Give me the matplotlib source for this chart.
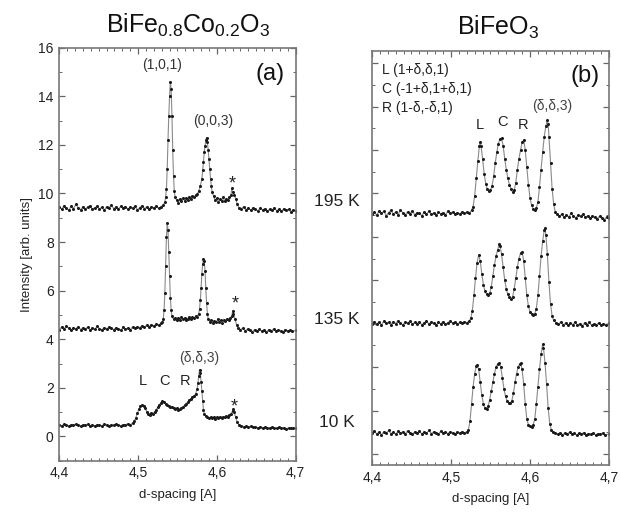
import matplotlib
matplotlib.use("Agg")
import matplotlib.pyplot as plt
from matplotlib.ticker import MultipleLocator, FuncFormatter

plt.rcParams['font.family'] = ['Liberation Sans', 'DejaVu Sans']
plt.rcParams['mathtext.fontset'] = 'custom'
plt.rcParams['mathtext.rm'] = 'Liberation Sans'
plt.rcParams['mathtext.it'] = 'Liberation Sans'

# ---------------- data (d-spacing, intensity) ----------------
# Panel (a): BiFe0.8Co0.2O3
a_195K = [(4.400,9.45),(4.403,9.35),(4.406,9.50),(4.409,9.40),(4.412,9.30),(4.415,9.48),(4.418,9.38),(4.421,9.55),(4.424,9.42),(4.427,9.33),(4.430,9.46),(4.433,9.36),(4.436,9.44),(4.439,9.50),(4.442,9.34),(4.445,9.41),(4.448,9.47),(4.451,9.37),(4.454,9.43),(4.457,9.32),(4.460,9.45),(4.463,9.40),(4.466,9.52),(4.469,9.38),(4.472,9.44),(4.475,9.35),(4.478,9.48),(4.481,9.41),(4.484,9.46),(4.487,9.36),(4.490,9.43),(4.493,9.39),(4.496,9.47),(4.499,9.33),(4.502,9.42),(4.505,9.50),(4.508,9.38),(4.511,9.44),(4.514,9.36),(4.517,9.45),(4.520,9.41),(4.523,9.48),(4.526,9.39),(4.529,9.45),(4.532,9.52),
          (4.534,9.65),(4.535,9.85),(4.536,10.2),(4.537,11.0),(4.538,12.2),(4.539,13.2),(4.540,14.0),(4.541,14.6),(4.542,14.3),(4.543,13.2),(4.544,11.8),(4.545,10.7),(4.546,10.1),(4.547,9.85),
          (4.549,9.72),(4.551,9.62),(4.553,9.78),(4.555,9.68),(4.557,9.80),(4.559,9.70),(4.561,9.82),(4.563,9.74),(4.565,9.86),(4.567,9.78),(4.569,9.90),(4.571,9.84),(4.573,9.94),(4.575,9.98),(4.577,10.1),(4.579,10.3),(4.581,10.6),(4.582,10.95),(4.583,11.3),(4.584,11.7),(4.585,11.95),(4.586,12.2),(4.587,12.3),(4.588,12.1),(4.589,11.8),(4.590,11.4),(4.591,11.0),(4.592,10.6),(4.593,10.3),(4.594,10.05),(4.596,9.88),(4.598,9.72),(4.600,9.80),(4.602,9.66),(4.604,9.76),(4.606,9.70),(4.608,9.84),(4.610,9.68),(4.612,9.78),(4.614,9.72),(4.616,9.85),(4.618,9.92),(4.619,10.22),(4.620,10.05),(4.622,9.95),(4.624,9.78),(4.626,9.55),(4.628,9.42),
          (4.631,9.38),(4.634,9.45),(4.637,9.33),(4.640,9.40),(4.643,9.30),(4.646,9.42),(4.649,9.35),(4.652,9.28),(4.655,9.40),(4.658,9.32),(4.661,9.38),(4.664,9.27),(4.667,9.36),(4.670,9.30),(4.673,9.41),(4.676,9.29),(4.679,9.35),(4.682,9.26),(4.685,9.38),(4.688,9.30),(4.691,9.34),(4.694,9.25),(4.697,9.32),(4.700,9.28)]

a_135K = [(4.400,4.40),(4.403,4.50),(4.406,4.42),(4.409,4.55),(4.412,4.45),(4.415,4.38),(4.418,4.48),(4.421,4.43),(4.424,4.52),(4.427,4.40),(4.430,4.47),(4.433,4.42),(4.436,4.50),(4.439,4.38),(4.442,4.46),(4.445,4.41),(4.448,4.53),(4.451,4.44),(4.454,4.39),(4.457,4.48),(4.460,4.42),(4.463,4.50),(4.466,4.45),(4.469,4.40),(4.472,4.47),(4.475,4.43),(4.478,4.36),(4.481,4.49),(4.484,4.42),(4.487,4.46),(4.490,4.40),(4.493,4.50),(4.496,4.45),(4.499,4.52),(4.502,4.48),(4.505,4.55),(4.508,4.50),(4.511,4.58),(4.514,4.52),(4.517,4.60),(4.520,4.55),(4.523,4.62),(4.526,4.58),(4.529,4.65),(4.531,4.72),
          (4.532,4.85),(4.533,5.2),(4.534,5.9),(4.535,7.0),(4.536,8.2),(4.537,8.8),(4.538,8.5),(4.539,7.6),(4.540,6.6),(4.541,5.7),(4.542,5.2),(4.543,4.95),
          (4.545,4.82),(4.547,4.88),(4.549,4.78),(4.551,4.86),(4.553,4.80),(4.555,4.90),(4.557,4.82),(4.559,4.88),(4.561,4.78),(4.563,4.85),(4.565,4.92),(4.567,4.84),(4.569,4.90),(4.571,4.86),(4.573,4.95),(4.575,4.92),(4.577,5.05),(4.578,5.25),(4.579,5.6),(4.580,6.1),(4.581,6.7),(4.582,7.1),(4.583,7.3),(4.584,7.2),(4.585,6.8),(4.586,6.1),(4.587,5.5),(4.588,5.05),(4.589,4.85),
          (4.591,4.72),(4.593,4.80),(4.595,4.68),(4.597,4.76),(4.599,4.70),(4.601,4.82),(4.603,4.72),(4.605,4.78),(4.607,4.68),(4.609,4.80),(4.611,4.74),(4.613,4.85),(4.615,4.80),(4.617,4.88),(4.619,4.95),(4.620,5.15),(4.621,5.05),(4.623,4.85),(4.625,4.60),(4.627,4.48),
          (4.630,4.40),(4.633,4.45),(4.636,4.35),(4.639,4.42),(4.642,4.38),(4.645,4.30),(4.648,4.40),(4.651,4.34),(4.654,4.42),(4.657,4.33),(4.660,4.38),(4.663,4.30),(4.666,4.40),(4.669,4.35),(4.672,4.42),(4.675,4.32),(4.678,4.38),(4.681,4.34),(4.684,4.30),(4.687,4.40),(4.690,4.35),(4.693,4.38),(4.696,4.32),(4.700,4.36)]

a_10K = [(4.400,0.48),(4.403,0.44),(4.406,0.50),(4.409,0.46),(4.412,0.42),(4.415,0.49),(4.418,0.45),(4.421,0.51),(4.424,0.46),(4.427,0.43),(4.430,0.48),(4.433,0.45),(4.436,0.50),(4.439,0.44),(4.442,0.47),(4.445,0.42),(4.448,0.49),(4.451,0.46),(4.454,0.44),(4.457,0.50),(4.460,0.47),(4.463,0.43),(4.466,0.48),(4.469,0.45),(4.472,0.51),(4.475,0.46),(4.478,0.44),(4.481,0.49),(4.484,0.47),(4.487,0.52),(4.490,0.48),(4.493,0.55),
         (4.495,0.62),(4.497,0.75),(4.499,0.95),(4.501,1.12),(4.503,1.24),(4.505,1.30),(4.507,1.27),(4.509,1.15),(4.511,1.02),(4.513,0.94),(4.515,0.90),(4.517,0.96),(4.519,0.93),(4.521,1.02),(4.523,1.10),(4.525,1.20),(4.527,1.30),(4.529,1.38),(4.531,1.44),(4.533,1.43),(4.535,1.35),(4.537,1.28),(4.539,1.24),(4.541,1.20),(4.543,1.22),(4.545,1.16),(4.547,1.12),(4.549,1.15),(4.551,1.08),(4.553,1.12),(4.555,1.18),(4.557,1.22),(4.559,1.28),(4.561,1.35),(4.563,1.42),(4.565,1.50),(4.567,1.55),(4.569,1.62),(4.571,1.66),(4.573,1.75),(4.575,1.95),(4.576,2.2),(4.577,2.5),(4.578,2.75),(4.579,2.6),(4.580,2.25),(4.581,1.85),(4.582,1.45),(4.583,1.1),(4.584,0.92),
         (4.586,0.84),(4.588,0.80),(4.590,0.76),(4.592,0.80),(4.594,0.74),(4.596,0.78),(4.598,0.72),(4.600,0.78),(4.602,0.75),(4.604,0.80),(4.606,0.76),(4.608,0.82),(4.610,0.78),(4.612,0.84),(4.614,0.82),(4.616,0.88),(4.618,0.92),(4.620,1.05),(4.621,1.12),(4.622,1.00),(4.624,0.78),(4.626,0.58),(4.628,0.48),
         (4.631,0.44),(4.634,0.40),(4.637,0.42),(4.640,0.38),(4.643,0.41),(4.646,0.37),(4.649,0.40),(4.652,0.36),(4.655,0.39),(4.658,0.35),(4.661,0.38),(4.664,0.36),(4.667,0.34),(4.670,0.38),(4.673,0.35),(4.676,0.33),(4.679,0.37),(4.682,0.34),(4.685,0.36),(4.688,0.32),(4.691,0.35),(4.694,0.33),(4.697,0.36),(4.700,0.34)]

# Panel (b): BiFeO3
b_195K = [(4.400,11.05),(4.403,11.15),(4.406,11.00),(4.409,11.20),(4.412,11.08),(4.415,11.18),(4.418,10.98),(4.421,11.12),(4.424,11.22),(4.427,11.05),(4.430,11.15),(4.433,11.02),(4.436,11.25),(4.439,11.10),(4.442,11.00),(4.445,11.16),(4.448,11.06),(4.451,11.20),(4.454,11.02),(4.457,11.12),(4.460,11.08),(4.463,10.98),(4.466,11.14),(4.469,11.05),(4.472,11.18),(4.475,11.04),(4.478,11.10),(4.481,11.00),(4.484,11.15),(4.487,11.06),(4.490,11.12),(4.493,11.02),(4.496,11.18),(4.499,11.08),(4.502,11.14),(4.505,11.04),(4.508,11.12),(4.511,11.06),(4.514,11.16),(4.517,11.08),(4.520,11.14),(4.523,11.10),(4.526,11.22),
          (4.528,11.4),(4.530,11.9),(4.532,12.7),(4.534,13.5),(4.536,14.2),(4.537,14.37),(4.538,14.2),(4.540,13.6),(4.542,12.9),(4.544,12.45),(4.546,12.2),(4.548,12.1),(4.550,12.15),(4.552,12.35),(4.554,12.8),(4.556,13.4),(4.558,13.9),(4.560,14.3),(4.562,14.5),(4.564,14.56),(4.566,14.2),(4.568,13.6),(4.570,13.1),(4.572,12.7),(4.574,12.4),(4.576,12.2),(4.578,12.05),(4.580,12.15),(4.582,12.5),(4.584,13.1),(4.586,13.6),(4.588,14.0),(4.590,14.35),(4.592,14.47),(4.594,14.0),(4.596,13.2),(4.598,12.4),(4.600,11.8),(4.602,11.45),(4.604,11.3),(4.606,11.25),(4.608,11.35),(4.610,11.6),(4.612,12.3),(4.614,13.1),(4.616,13.9),(4.618,14.6),(4.620,15.1),(4.622,15.39),(4.623,15.2),(4.624,14.6),(4.626,13.4),(4.628,12.2),(4.630,11.5),(4.632,11.15),(4.634,11.05),
          (4.637,10.95),(4.640,11.05),(4.643,10.90),(4.646,11.00),(4.649,10.92),(4.652,11.08),(4.655,10.95),(4.658,10.88),(4.661,11.02),(4.664,10.94),(4.667,11.06),(4.670,10.90),(4.673,10.98),(4.676,10.86),(4.679,10.96),(4.682,10.90),(4.685,10.84),(4.688,10.95),(4.691,10.88),(4.694,10.80),(4.697,10.92),(4.700,10.85)]

b_135K = [(4.400,6.00),(4.403,6.10),(4.406,5.98),(4.409,6.08),(4.412,5.95),(4.415,6.12),(4.418,6.02),(4.421,6.06),(4.424,5.96),(4.427,6.10),(4.430,6.00),(4.433,6.14),(4.436,6.04),(4.439,5.94),(4.442,6.08),(4.445,6.02),(4.448,6.12),(4.451,5.98),(4.454,6.06),(4.457,6.00),(4.460,6.10),(4.463,5.95),(4.466,6.04),(4.469,6.12),(4.472,5.98),(4.475,6.08),(4.478,6.02),(4.481,5.94),(4.484,6.06),(4.487,6.00),(4.490,6.10),(4.493,5.98),(4.496,6.05),(4.499,6.12),(4.502,6.02),(4.505,6.08),(4.508,5.98),(4.511,6.06),(4.514,6.02),(4.517,6.10),(4.520,6.05),(4.523,6.12),
          (4.525,6.25),(4.527,6.6),(4.529,7.3),(4.531,8.1),(4.533,8.8),(4.535,9.17),(4.537,8.9),(4.539,8.3),(4.541,7.8),(4.543,7.5),(4.545,7.35),(4.547,7.3),(4.549,7.4),(4.551,7.7),(4.553,8.2),(4.555,8.7),(4.557,9.1),(4.559,9.4),(4.561,9.65),(4.562,9.6),(4.564,9.2),(4.566,8.6),(4.568,8.0),(4.570,7.6),(4.572,7.35),(4.574,7.25),(4.576,7.15),(4.578,7.25),(4.580,7.6),(4.582,8.1),(4.584,8.6),(4.586,9.0),(4.588,9.25),(4.590,9.3),(4.592,8.9),(4.594,8.1),(4.596,7.3),(4.598,6.8),(4.600,6.55),(4.602,6.45),(4.604,6.4),(4.606,6.45),(4.608,6.7),(4.610,7.3),(4.612,8.2),(4.614,9.1),(4.616,9.8),(4.618,10.3),(4.619,10.4),(4.620,10.1),(4.622,9.2),(4.624,7.9),(4.626,6.9),(4.628,6.35),(4.630,6.15),
          (4.633,6.05),(4.636,5.98),(4.639,6.08),(4.642,5.95),(4.645,6.04),(4.648,5.92),(4.651,6.02),(4.654,5.96),(4.657,6.08),(4.660,5.94),(4.663,6.00),(4.666,5.90),(4.669,6.04),(4.672,5.96),(4.675,6.06),(4.678,5.92),(4.681,6.00),(4.684,5.95),(4.687,6.05),(4.690,5.93),(4.693,6.00),(4.696,5.95),(4.700,6.02)]

b_10K = [(4.400,0.95),(4.403,1.05),(4.406,0.92),(4.409,1.00),(4.412,0.88),(4.415,1.02),(4.418,0.96),(4.421,1.08),(4.424,0.94),(4.427,1.00),(4.430,0.90),(4.433,1.04),(4.436,0.96),(4.439,1.02),(4.442,0.92),(4.445,1.06),(4.448,0.98),(4.451,0.90),(4.454,1.02),(4.457,0.95),(4.460,1.05),(4.463,0.93),(4.466,1.00),(4.469,0.96),(4.472,1.08),(4.475,0.94),(4.478,1.02),(4.481,0.98),(4.484,0.92),(4.487,1.04),(4.490,0.96),(4.493,1.00),(4.496,0.94),(4.499,1.02),(4.502,0.98),(4.505,0.92),(4.508,1.00),(4.511,0.95),(4.514,1.03),(4.517,0.97),(4.520,1.02),
         (4.522,1.1),(4.524,1.5),(4.526,2.3),(4.528,3.1),(4.530,3.7),(4.532,4.05),(4.533,4.1),(4.535,3.9),(4.537,3.3),(4.539,2.7),(4.541,2.3),(4.543,2.1),(4.545,2.08),(4.547,2.2),(4.549,2.5),(4.551,2.9),(4.553,3.3),(4.555,3.7),(4.557,4.0),(4.559,4.15),(4.561,4.2),(4.563,4.0),(4.565,3.5),(4.567,3.0),(4.569,2.65),(4.571,2.45),(4.573,2.35),(4.575,2.33),(4.577,2.45),(4.579,2.8),(4.581,3.3),(4.583,3.7),(4.585,4.0),(4.587,4.15),(4.588,4.18),(4.590,3.9),(4.592,3.2),(4.594,2.3),(4.596,1.6),(4.598,1.35),(4.600,1.28),(4.602,1.25),(4.604,1.35),(4.606,1.6),(4.608,2.3),(4.610,3.1),(4.612,3.9),(4.614,4.6),(4.616,5.06),(4.617,4.9),(4.619,4.2),(4.621,3.2),(4.623,2.1),(4.625,1.4),(4.627,1.1),(4.629,1.0),
         (4.632,0.95),(4.635,0.90),(4.638,0.98),(4.641,0.88),(4.644,0.96),(4.647,0.92),(4.650,1.00),(4.653,0.90),(4.656,0.95),(4.659,0.86),(4.662,0.96),(4.665,0.92),(4.668,0.98),(4.671,0.88),(4.674,0.94),(4.677,0.90),(4.680,0.96),(4.683,0.88),(4.686,0.93),(4.689,0.90),(4.692,0.96),(4.695,0.88),(4.700,0.92)]

temperature_labels = ["195 K", "135 K", "10 K"]
x_ticks = [4.4, 4.5, 4.6, 4.7]

# ---------------- figure ----------------
fig = plt.figure(figsize=(6.21, 5.15), dpi=100)
axA = fig.add_axes([0.0955, 0.1054, 0.3805, 0.802])
axB = fig.add_axes([0.599, 0.0971, 0.3817, 0.8045])

line_kw = dict(color='#8a8a8a', lw=0.8, marker='o', ms=2.2, mfc='#1a1a1a',
               mec='#1a1a1a', mew=0)

for curve in (a_195K, a_135K, a_10K):
    xs, ys = zip(*curve)
    axA.plot(xs, ys, **line_kw)
for curve in (b_195K, b_135K, b_10K):
    xs, ys = zip(*curve)
    axB.plot(xs, ys, **line_kw)

comma = FuncFormatter(lambda v, p: f"{v:.1f}".replace('.', ','))
for ax in (axA, axB):
    ax.set_xlim(4.4, 4.7)
    ax.set_xticks(x_ticks)
    ax.xaxis.set_major_formatter(comma)
    ax.xaxis.set_minor_locator(MultipleLocator(0.01))
    ax.tick_params(which='both', direction='in', top=True, right=True,
                   color='#666666', labelsize=10, labelcolor='#222222', pad=4)
    ax.tick_params(which='major', length=4, width=0.9)
    ax.tick_params(which='minor', length=2, width=0.7)
    for s in ax.spines.values():
        s.set_color('#777777')
        s.set_linewidth(1.2)
    ax.set_xlabel('d-spacing [A]', fontsize=9.5, color='#222222', labelpad=6)

axA.set_ylim(-1, 16)
axA.yaxis.set_major_locator(MultipleLocator(2))
axA.yaxis.set_minor_locator(MultipleLocator(1))
axA.set_ylabel('Intensity [arb. units]', fontsize=9.5, color='#222222', labelpad=4)

axB.set_ylim(-0.51, 18.58)
axB.yaxis.set_major_locator(MultipleLocator(2))
axB.yaxis.set_minor_locator(MultipleLocator(1))
axB.tick_params(axis='y', which='both', labelleft=False)

# ---------------- annotations ----------------
fig.text(0.3035, 0.936, r'BiFe$_{0.8}$Co$_{0.2}$O$_{3}$', fontsize=18, ha='center',
         va='baseline', color='#111111')
fig.text(0.802, 0.932, r'BiFeO$_{3}$', fontsize=18, ha='center', va='baseline',
         color='#111111')

axA.text(4.6674, 14.93, '(a)', fontsize=17, ha='center', va='center', color='#111111')
axA.text(4.530, 15.27, '(1,0,1)', fontsize=10, ha='center', va='center', color='#333333')
axA.text(4.5955, 12.98, '(0,0,3)', fontsize=10, ha='center', va='center', color='#333333')
for xs_, ys_ in ((4.6196, 10.4), (4.623, 5.45), (4.622, 1.22)):
    axA.text(xs_, ys_, '*', fontsize=13, ha='center', va='center', color='#222222')
for lab, xv in (('L', 4.5058), ('C', 4.5333), ('R', 4.5596)):
    axA.text(xv, 2.30, lab, fontsize=10.5, ha='center', va='center', color='#222222')
axA.text(4.5773, 3.24, '(δ,δ,3)', fontsize=10, ha='center', va='center', color='#444444')

axB.text(4.6696, 17.41, '(b)', fontsize=17, ha='center', va='center', color='#111111')
axB.text(4.4123, 17.69, 'L (1+δ,δ,1)', fontsize=10, ha='left', va='center', color='#222222')
axB.text(4.4123, 16.80, 'C (-1+δ,1+δ,1)', fontsize=10, ha='left', va='center', color='#222222')
axB.text(4.4123, 15.93, 'R (1-δ,-δ,1)', fontsize=10, ha='left', va='center', color='#222222')
axB.text(4.6275, 16.03, '(δ,δ,3)', fontsize=10, ha='center', va='center', color='#444444')
for lab, xv, yv in (('L', 4.5367, 15.16), ('C', 4.5654, 15.31), ('R', 4.5915, 15.16)):
    axB.text(xv, yv, lab, fontsize=10.5, ha='center', va='center', color='#222222')

for lab, yfig in zip(temperature_labels, (201.7, 320, 422.7)):
    fig.text(337 / 621, 1 - yfig / 515, lab, fontsize=12.5, ha='center', va='center',
             color='#222222')

fig.savefig('out.png', dpi=100)
